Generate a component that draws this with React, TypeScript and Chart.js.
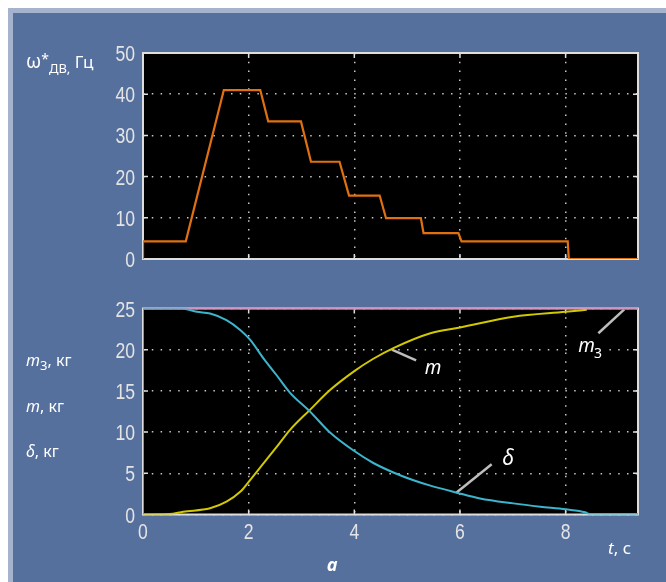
import { useEffect, useRef } from "react";
import { Chart, registerables } from "chart.js";
Chart.register(...registerables);

// ---------- data ----------
const T_MAX = 9.37;
const xTickStep = 2;

// top chart: ω*дв, Гц
const omegaT = [0, 0, 0.81, 1.53, 2.22, 2.37, 2.99, 3.18, 3.72, 3.9, 4.48, 4.6, 5.26, 5.31, 5.97, 6.03, 8.04, 8.06, 9.37];
const omegaV = [0, 4.3, 4.3, 41, 41, 33.4, 33.4, 23.6, 23.6, 15.4, 15.4, 9.9, 9.9, 6.3, 6.3, 4.3, 4.3, 0, 0];

// bottom chart: m3, m, δ (кг)
const m3T = [0, 9.37];
const m3V = [25, 25];

const mT = [0, 0.5, 0.76, 1.27, 1.58, 1.84, 2.0, 2.28, 2.53, 2.78, 3.16, 3.54, 4.0, 4.36, 4.74, 5.44, 6.0, 7.01, 8.0, 8.4];
const mV = [0, 0.05, 0.34, 0.75, 1.55, 2.75, 3.96, 6.2, 8.2, 10.25, 12.7, 15.1, 17.4, 18.9, 20.2, 22.0, 22.7, 24.0, 24.6, 24.85];

const dT = [0, 0, 0.73, 1.02, 1.27, 1.58, 1.84, 2.03, 2.28, 2.53, 2.78, 3.16, 3.54, 4.0, 4.36, 4.74, 5.12, 5.44, 5.94, 6.38, 7.01, 7.52, 8.0, 8.37, 8.45, 9.37];
const dV = [0, 25, 25, 24.6, 24.4, 23.6, 22.4, 21.2, 18.95, 16.9, 14.8, 12.5, 9.95, 7.7, 6.25, 5.1, 4.15, 3.5, 2.65, 1.95, 1.35, 0.95, 0.63, 0.27, 0.05, 0.05];

// annotation leaders (data coords)
const leaderM_T = [4.71, 5.17];
const leaderM_V = [20.0, 18.7];
const leaderM3_T = [8.62, 9.11];
const leaderM3_V = [22.0, 24.9];
const leaderD_T = [5.93, 6.6];
const leaderD_V = [2.65, 6.1];

// annotation label anchors (data coords)
const labelM = { t: 5.49, v: 17.05 };
const labelM3 = { t: 8.24, v: 19.76 };
const labelD = { t: 6.91, v: 6.0 };

const topYMax = 50;
const topYStep = 10;
const botYMax = 25;
const botYStep = 5;

// ---------- helpers ----------
const pts = (xs: number[], ys: number[]) => xs.map((x, i) => ({ x, y: ys[i] }));

const TICK_FONT = '22px "Liberation Sans", Arimo, Arial, sans-serif';
const TICK_COLOR = "#e4e4e4";
const TICK_SQUEEZE = 0.8;
const GRID = { color: "#c8c8c8", lineWidth: 1.5, drawTicks: false };
const BORDER = { display: false, dash: [1.5, 7.3] };

const framePlugin = {
  id: "frame",
  beforeDraw(chart: any) {
    const { ctx, chartArea: a } = chart;
    ctx.save();
    ctx.fillStyle = "#000";
    ctx.fillRect(a.left, a.top, a.right - a.left, a.bottom - a.top);
    ctx.restore();
  },
  beforeDatasetsDraw(chart: any) {
    const { ctx, chartArea: a, scales } = chart;
    ctx.save();
    ctx.strokeStyle = "#dedede";
    ctx.lineWidth = 2;
    ctx.strokeRect(a.left, a.top, a.right - a.left, a.bottom - a.top);
    ctx.lineWidth = 1.5;
    const L = 5;
    const xs = scales.x;
    xs.ticks.forEach((tk: any) => {
      if (tk.value <= xs.min || tk.value >= xs.max) return;
      const px = xs.getPixelForValue(tk.value);
      ctx.beginPath();
      ctx.moveTo(px, a.bottom);
      ctx.lineTo(px, a.bottom - L);
      ctx.moveTo(px, a.top);
      ctx.lineTo(px, a.top + L);
      ctx.stroke();
    });
    const ys = scales.y;
    ys.ticks.forEach((tk: any) => {
      if (tk.value <= ys.min || tk.value >= ys.max) return;
      const py = ys.getPixelForValue(tk.value);
      ctx.beginPath();
      ctx.moveTo(a.left, py);
      ctx.lineTo(a.left + L, py);
      ctx.moveTo(a.right, py);
      ctx.lineTo(a.right - L, py);
      ctx.stroke();
    });
    ctx.restore();
  },
};

// tick labels drawn from the scales' own ticks, horizontally narrowed
const tickLabelsPlugin = (showX: boolean) => ({
  id: "tickLabels",
  afterDraw(chart: any) {
    const { ctx, chartArea: a, scales } = chart;
    ctx.save();
    ctx.font = TICK_FONT;
    ctx.fillStyle = TICK_COLOR;
    ctx.textBaseline = "alphabetic";
    const put = (text: string, x: number, y: number, align: CanvasTextAlign) => {
      ctx.save();
      ctx.translate(x, y);
      ctx.scale(TICK_SQUEEZE, 1);
      ctx.textAlign = align;
      ctx.fillText(text, 0, 0);
      ctx.restore();
    };
    scales.y.ticks.forEach((tk: any) => {
      put(String(tk.label), a.left - 8, scales.y.getPixelForValue(tk.value) + 8, "right");
    });
    if (showX) {
      scales.x.ticks.forEach((tk: any) => {
        put(String(tk.label), scales.x.getPixelForValue(tk.value), a.bottom + 24, "center");
      });
    }
    ctx.restore();
  },
});

const labelsPlugin = {
  id: "labels",
  afterDatasetsDraw(chart: any) {
    const { ctx, scales } = chart;
    const X = (t: number) => scales.x.getPixelForValue(t);
    const Y = (v: number) => scales.y.getPixelForValue(v);
    ctx.save();
    ctx.textBaseline = "alphabetic";
    const italic = (s: number) => `italic ${s}px "Noto Sans", "Open Sans", sans-serif`;

    // m
    ctx.font = italic(19);
    ctx.fillStyle = "#fff";
    ctx.textAlign = "center";
    ctx.fillText("m", X(labelM.t), Y(labelM.v));

    // m3 (with black box)
    {
      const x0 = X(labelM3.t);
      const y0 = Y(labelM3.v);
      ctx.font = italic(19);
      const w1 = ctx.measureText("m").width;
      ctx.font = `14px "Noto Sans", sans-serif`;
      const w2 = ctx.measureText("3").width;
      ctx.fillStyle = "#000";
      ctx.fillRect(x0 - 6, y0 - 16, w1 + w2 + 12, 26);
      ctx.fillStyle = "#fff";
      ctx.textAlign = "left";
      ctx.font = italic(19);
      ctx.fillText("m", x0, y0);
      ctx.font = `14px "Noto Sans", sans-serif`;
      ctx.fillText("3", x0 + w1 - 1, y0 + 6);
    }

    // δ (with black box)
    {
      const x0 = X(labelD.t);
      const y0 = Y(labelD.v);
      ctx.font = italic(21);
      const w = ctx.measureText("δ").width;
      ctx.fillStyle = "#000";
      ctx.fillRect(x0 - w / 2 - 9, y0 - 18, w + 18, 24);
      ctx.fillStyle = "#fff";
      ctx.textAlign = "center";
      ctx.fillText("δ", x0, y0);
    }
    ctx.restore();
  },
};

const baseX = (height: number) => ({
  type: "linear" as const,
  min: 0,
  max: T_MAX,
  afterFit: (s: any) => {
    s.height = height;
  },
  ticks: {
    display: false,
    stepSize: xTickStep,
    includeBounds: false,
    autoSkip: false,
  },
  grid: GRID,
  border: BORDER,
});

const baseY = (max: number, step: number) => ({
  type: "linear" as const,
  min: 0,
  max,
  afterFit: (s: any) => {
    s.width = 143;
  },
  ticks: {
    display: false,
    stepSize: step,
  },
  grid: GRID,
  border: BORDER,
});

const line = (data: any, color: string, width = 2, extra: any = {}) => ({
  data,
  borderColor: color,
  borderWidth: width,
  pointRadius: 0,
  fill: false,
  ...extra,
});

export default function App() {
  const topRef = useRef<HTMLCanvasElement | null>(null);
  const botRef = useRef<HTMLCanvasElement | null>(null);

  useEffect(() => {
    if (!topRef.current || !botRef.current) return;
    const top = new Chart(topRef.current, {
      type: "line",
      data: {
        datasets: [line(pts(omegaT, omegaV), "#e07010", 2.2)],
      },
      options: {
        animation: false,
        responsive: false,
        maintainAspectRatio: false,
        events: [],
        layout: { padding: { left: 0, top: 53, right: 28, bottom: 323 } },
        plugins: { legend: { display: false }, tooltip: { enabled: false } },
        scales: {
          x: baseX(0),
          y: baseY(topYMax, topYStep),
        },
      } as any,
      plugins: [framePlugin, tickLabelsPlugin(false)],
    });

    const bot = new Chart(botRef.current, {
      type: "line",
      data: {
        datasets: [
          line(pts(dT, dV), "#3cb4cc", 2, { cubicInterpolationMode: "monotone" }),
          line(pts(mT, mV), "#d2c800", 2, { cubicInterpolationMode: "monotone" }),
          line(pts(m3T, m3V), "#c84a9c", 2),
          line(pts(leaderM_T, leaderM_V), "#bdbdbd", 2.5),
          line(pts(leaderM3_T, leaderM3_V), "#bdbdbd", 2.5),
          line(pts(leaderD_T, leaderD_V), "#bdbdbd", 2.5),
        ],
      },
      options: {
        animation: false,
        responsive: false,
        maintainAspectRatio: false,
        events: [],
        layout: { padding: { left: 0, top: 308.5, right: 28, bottom: 37.5 } },
        plugins: { legend: { display: false }, tooltip: { enabled: false } },
        scales: {
          x: baseX(30),
          y: baseY(botYMax, botYStep),
        },
      } as any,
      plugins: [framePlugin, labelsPlugin, tickLabelsPlugin(true)],
    });

    return () => {
      top.destroy();
      bot.destroy();
    };
  }, []);

  const txt: any = {
    position: "absolute",
    color: "#fff",
    fontFamily: '"Noto Sans", "Open Sans", sans-serif',
    fontSize: 16,
    lineHeight: "18px",
    whiteSpace: "nowrap",
  };

  return (
    <div style={{ position: "absolute", left: 0, top: 0, width: 666, height: 582, background: "#fff", overflow: "hidden" }}>
      <div style={{ position: "absolute", left: 8, top: 8, width: 658, height: 574, background: "#a6b3cf" }} />
      <div style={{ position: "absolute", left: 13, top: 13, width: 653, height: 569, background: "#56709e" }} />
      <canvas ref={topRef} width={666} height={582} style={{ position: "absolute", left: 0, top: 0 }} />
      <canvas ref={botRef} width={666} height={582} style={{ position: "absolute", left: 0, top: 0 }} />

      <div style={{ ...txt, left: 26, top: 50, fontSize: 17 }}>
        <span style={{ fontSize: 19 }}>ω</span>
        <sup style={{ fontSize: 14, verticalAlign: 4 }}>*</sup>
        <sub style={{ fontSize: 13, verticalAlign: -5 }}>ДВ,</sub> Гц
      </div>
      <div style={{ ...txt, left: 26, top: 350.5 }}>
        <i>m</i>
        <sub style={{ fontSize: 13, verticalAlign: -4 }}>3</sub>, кг
      </div>
      <div style={{ ...txt, left: 26, top: 397 }}>
        <i>m</i>, кг
      </div>
      <div style={{ ...txt, left: 26, top: 442 }}>
        <i>δ</i>, кг
      </div>
      <div style={{ ...txt, left: 608, top: 538, fontSize: 17, lineHeight: "20px" }}>
        <i>t</i>, с
      </div>
      <div style={{ ...txt, left: 327, top: 554, fontSize: 18, lineHeight: "20px", fontWeight: 700, fontStyle: "italic" }}>
        а
      </div>
    </div>
  );
}
